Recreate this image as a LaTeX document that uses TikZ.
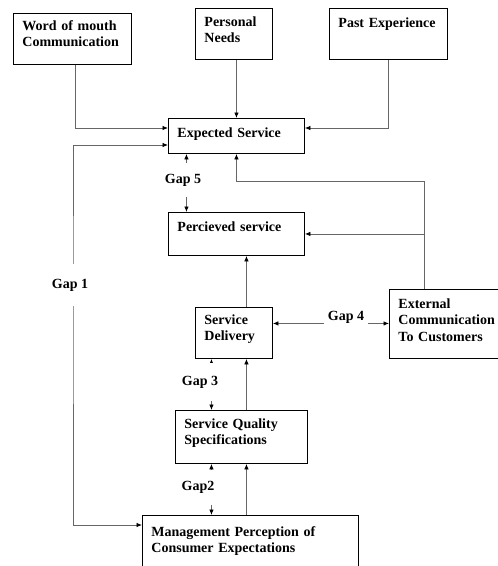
\documentclass[tikz,border=0pt]{standalone}
\usepackage{fontspec}
\setmainfont{Liberation Serif}
\usepackage{tikz}
\usetikzlibrary{arrows.meta}

\begin{document}
\begin{tikzpicture}[
      x=1pt, y=-1pt,
      box/.style={draw, line width=0.9pt, anchor=north west, align=left, inner xsep=9pt, inner ysep=0pt,
        text height=18pt, font=\bfseries\fontsize{14}{16.5}\selectfont},
      link/.style={draw=black!60, line width=0.8pt},
      tip/.style={-{Latex[length=5.5pt, width=4.5pt, color=black]}},
      bothtips/.style={{Latex[length=5.5pt, width=4.5pt, color=black]}-{Latex[length=5.5pt, width=4.5pt, color=black]}},
      gaplabel/.style={fill=white, inner xsep=3pt, inner ysep=0pt, font=\bfseries\fontsize{14}{16.5}\selectfont}
    ]
    \useasboundingbox (0,0) rectangle (498,566);

    \node[box, text width=100pt, text height=17pt, text depth=34pt] (wom) at (13,13) {Word of mouth\\Communication};
    \node[box, text width=59pt, text depth=33pt] (needs) at (195,8) {Personal\\Needs};
    \node[box, text width=100pt, text height=19pt, text depth=32pt] (past) at (329,8) {Past Experience};
    \node[box, text width=118pt, text height=19pt, text depth=16pt] (expected) at (168,118) {Expected Service};
    \node[box, text width=118pt, text height=19pt, text depth=24pt] (perceived) at (168,212) {Percieved service};
    \node[box, text width=59pt, text height=17pt, text depth=34pt] (delivery) at (195,307) {Service\\Delivery};
    \node[box, text width=102pt, text height=19pt, text depth=50pt] (extcomm) at (389,289) {External\\Communication\\To Customers};
    \node[box, text width=114pt, text depth=35pt] (specs) at (175,410) {Service Quality\\Specifications};
    \node[box, text width=198pt, text height=21pt, text depth=39pt] (mgmt) at (142,515) {Management Perception of\\Consumer Expectations};

    \draw[link, tip] ([xshift=3pt]wom.south) |- ([yshift=-10pt]expected.north west);
    \draw[link, tip] ([xshift=2.5pt]needs.south) -- ([xshift=0pt]expected.north);
    \draw[link, tip] (past.south) |- ([yshift=-10pt]expected.north east);

    \coordinate (gapone) at (73,285);
    \draw[link, bothtips] ([yshift=-10pt]mgmt.north west) -| (gapone) |- ([yshift=-27pt]expected.north west);
    \node[gaplabel, minimum height=42pt] (gap1) at ([xshift=-3pt]gapone) {Gap 1};

    \draw[link, bothtips] ([xshift=-50pt]expected.south) -- ([xshift=-50pt]perceived.north);
    \node[gaplabel, minimum height=34pt] (gap5) at (183,180) {Gap 5};

    \coordinate (extup) at ([xshift=35pt]extcomm.north west);
    \draw[link, tip] (extup) |- ([yshift=-27pt]expected.south) -- (expected.south);
    \draw[link, tip] (extup |- perceived.east) -- (perceived.east);

    \draw[link, tip] ([xshift=12.5pt]delivery.north) -- ([xshift=10pt]perceived.south);
    \draw[link, bothtips] ([yshift=9.5pt]delivery.east) -- ([yshift=0.5pt]extcomm.west);
    \node[gaplabel, minimum height=18pt, inner xsep=4pt] (gap4) at (346,317) {Gap 4};

    \draw[link, tip] ([xshift=5pt]specs.north) -- ([xshift=12.5pt]delivery.south);
    \draw[link, bothtips] ([xshift=-22.5pt]delivery.south) -- ([xshift=-30pt]specs.north);
    \node[gaplabel, minimum height=38pt] (gap3) at (200,382) {Gap 3};

    \draw[link, tip] ([xshift=-4pt]mgmt.north) -- ([xshift=5pt]specs.south);
    \draw[link, bothtips] ([xshift=-30pt]specs.south) -- ([xshift=-39pt]mgmt.north);
    \node[gaplabel, minimum height=35pt] (gap2) at (198,487) {Gap2};
  \end{tikzpicture}
\end{document}
